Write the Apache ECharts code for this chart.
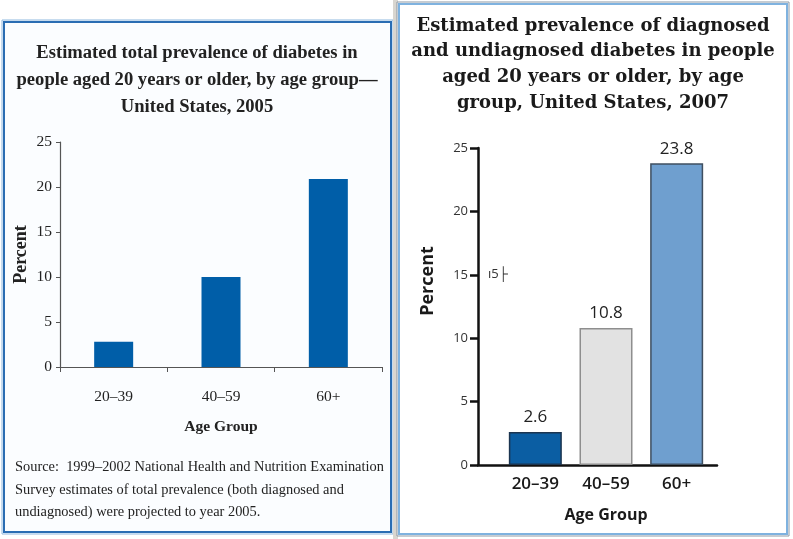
<!DOCTYPE html>
<html>
<head>
<meta charset="utf-8">
<script src="https://cdn.jsdelivr.net/npm/echarts@6/dist/echarts.min.js"></script>
<style>
html,body{margin:0;padding:0;background:#fff;}
#c{width:793px;height:539px;}
</style>
</head>
<body>
<div id="c"></div>
<script>
// ---- data ----
var categories = ['20\u201339', '40\u201359', '60+'];
var values2005 = [2.8, 10.0, 20.9];
var values2007 = [2.6, 10.8, 23.8];
var yTicks = [0, 5, 10, 15, 20, 25];
var titleLeft = 'Estimated total prevalence of diabetes in\npeople aged 20 years or older, by age group\u2014\nUnited States, 2005';
var titleRight = 'Estimated prevalence of diagnosed\nand undiagnosed diabetes in people\naged 20 years or older, by age\ngroup, United States, 2007';
var sourceNote = 'Source:  1999\u20132002 National Health and Nutrition Examination\nSurvey estimates of total prevalence (both diagnosed and\nundiagnosed) were projected to year 2005.';
var yName = 'Percent';
var xName = 'Age Group';

var chart = echarts.init(document.getElementById('c'), null, {renderer: 'canvas'});
var serif = '"Liberation Serif", "Times New Roman", serif';
var sans = '"Open Sans", "Noto Sans", sans-serif';
var yMin = yTicks[0], yMax = yTicks[yTicks.length - 1], yStep = yTicks[1] - yTicks[0];

var rightColors = [
  {c: '#0b5ea3', b: '#1c3550'},
  {c: '#e2e2e2', b: '#8e8e8e'},
  {c: '#6f9fcf', b: '#3f4f60'}
];

chart.setOption({
  animation: false,
  backgroundColor: '#ffffff',
  grid: [
    {left: 60, top: 142, width: 322, height: 225},
    {left: 500, top: 148, width: 212, height: 317},
    {left: 478, top: 148, width: 239, height: 317}
  ],
  xAxis: [
    {
      type: 'category', gridIndex: 0, data: categories,
      axisLine: {lineStyle: {color: '#555', width: 1.2}},
      axisTick: {show: true, length: 5, lineStyle: {color: '#555'}},
      axisLabel: {color: '#222', fontFamily: serif, fontSize: 15.5, margin: 22},
      name: xName, nameLocation: 'middle', nameGap: 52,
      nameTextStyle: {color: '#222', fontFamily: serif, fontSize: 15.5, fontWeight: 'bold'}
    },
    {
      type: 'category', gridIndex: 1, data: categories,
      axisLine: {show: false},
      axisTick: {show: false},
      axisLabel: {color: '#1a1a1a', fontFamily: sans, fontSize: 17, fontWeight: 600, margin: 11},
      name: xName, nameLocation: 'middle', nameGap: 42,
      nameTextStyle: {color: '#1a1a1a', fontFamily: sans, fontSize: 16, fontWeight: 'bold'}
    },
    {
      type: 'value', gridIndex: 2, min: 0, max: 1,
      axisLine: {show: true, onZero: false, lineStyle: {color: '#111', width: 2.5}},
      axisTick: {show: false}, axisLabel: {show: false}, splitLine: {show: false}
    }
  ],
  yAxis: [
    {
      type: 'value', gridIndex: 0, min: yMin, max: yMax, interval: yStep,
      axisLine: {show: true, lineStyle: {color: '#555', width: 1.2}},
      axisTick: {show: true, length: 4, lineStyle: {color: '#555'}},
      splitLine: {show: false},
      axisLabel: {color: '#222', fontFamily: serif, fontSize: 15.5, margin: 8},
      name: yName, nameLocation: 'middle', nameGap: 30, nameRotate: 90,
      nameTextStyle: {color: '#222', fontFamily: serif, fontSize: 18, fontWeight: 'bold'}
    },
    {
      type: 'value', gridIndex: 1, min: yMin, max: yMax, interval: yStep, offset: 22,
      axisLine: {show: true, lineStyle: {color: '#111', width: 2.5}},
      axisTick: {show: true, length: 8, lineStyle: {color: '#111', width: 2.5}},
      splitLine: {show: false},
      axisLabel: {color: '#333', fontFamily: sans, fontSize: 13, margin: 10}
    },
    {
      type: 'value', gridIndex: 2, min: 0, max: 1, show: false
    }
  ],
  series: [
    {
      type: 'bar', xAxisIndex: 0, yAxisIndex: 0, data: values2005, barWidth: 39,
      itemStyle: {color: '#005ea8'}
    },
    {
      type: 'bar', xAxisIndex: 1, yAxisIndex: 1, barWidth: 53,
      data: values2007.map(function (v, i) {
        return {value: v, itemStyle: {color: rightColors[i].c, borderColor: rightColors[i].b, borderWidth: 1.5}};
      }),
      label: {show: true, position: 'top', distance: 6, color: '#222', fontFamily: sans, fontSize: 17,
        formatter: function (p) { return p.value.toFixed(1); }}
    }
  ],
  graphic: [
    // panel frames
    {type: 'rect', z: -10, shape: {x: 2, y: 20, width: 391, height: 514},
      style: {fill: '#fbfdff', stroke: '#8fb8de', lineWidth: 1}},
    {type: 'rect', z: -9, shape: {x: 4, y: 22, width: 387, height: 510},
      style: {fill: 'none', stroke: '#2a6db3', lineWidth: 2}},
    {type: 'rect', z: -10, shape: {x: 393, y: 0, width: 5, height: 539},
      style: {fill: '#d9d6d0', stroke: null}},
    {type: 'rect', z: -10, shape: {x: 397, y: 2, width: 392, height: 534},
      style: {fill: '#ffffff', stroke: '#8d99a5', lineWidth: 1}},
    {type: 'rect', z: -9, shape: {x: 399, y: 4, width: 388, height: 530},
      style: {fill: 'none', stroke: '#7fb2df', lineWidth: 2}},
    // titles
    {type: 'text', style: {text: titleLeft, x: 197, y: 40, textAlign: 'center', textVerticalAlign: 'top',
      font: 'bold 18.6px ' + serif, lineHeight: 27, fill: '#222'}},
    {type: 'text', style: {text: titleRight, x: 593, y: 13, textAlign: 'center', textVerticalAlign: 'top',
      font: 'bold 18px "DejaVu Serif", serif', lineHeight: 25.8, fill: '#1a1a1a'}},
    // right y-axis title (sits above the axis middle in the reference)
    {type: 'text', x: 428, y: 281, rotation: Math.PI / 2,
      style: {text: yName, x: 0, y: 0, textAlign: 'center', textVerticalAlign: 'middle',
        font: 'bold 18px ' + sans, fill: '#1a1a1a'}},
    // source note
    {type: 'text', style: {text: sourceNote, x: 15, y: 456, textAlign: 'left', textVerticalAlign: 'top',
      font: '14.4px ' + serif, lineHeight: 22.5, fill: '#222'}},
    // stray artifact next to 15
    {type: 'text', style: {text: '\u0131' + '5\u251c', x: 488, y: 274, textAlign: 'left', textVerticalAlign: 'middle',
      font: '13px ' + sans, fill: '#333'}}
  ]
});
</script>
</body>
</html>
